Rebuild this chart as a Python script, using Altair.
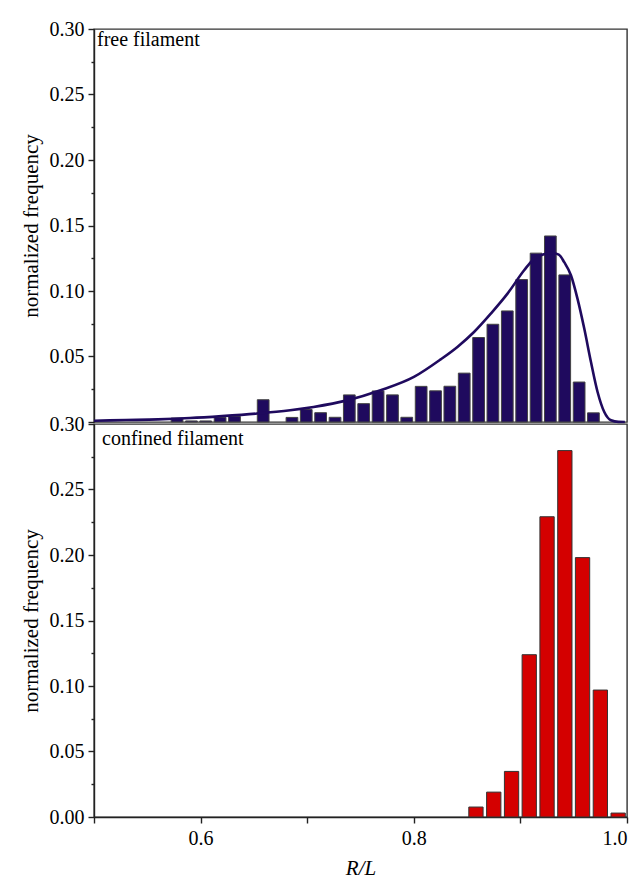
import altair as alt
import pandas as pd

# ---- data ----
free_centers = [0.5779, 0.5914, 0.6048, 0.6183, 0.6318, 0.6587, 0.6857, 0.6991,
                0.7126, 0.7261, 0.7395, 0.7530, 0.7665, 0.7800, 0.7934, 0.8069,
                0.8204, 0.8338, 0.8473, 0.8608, 0.8742, 0.8877, 0.9012, 0.9147,
                0.9281, 0.9416, 0.9551, 0.9685]
free_values = [0.0030, 0.0008, 0.0008, 0.0034, 0.0042, 0.0170, 0.0035, 0.0095,
               0.0071, 0.0036, 0.0207, 0.0140, 0.0237, 0.0207, 0.0036, 0.0272,
               0.0238, 0.0273, 0.0373, 0.0645, 0.0746, 0.0848, 0.1087, 0.1289,
               0.1420, 0.1123, 0.0305, 0.0070]

fit_x = [0.500, 0.530, 0.560, 0.590, 0.620, 0.653, 0.684, 0.706, 0.7375, 0.7688,
         0.8001, 0.8252, 0.8409, 0.8565, 0.8722, 0.8879, 0.9035, 0.9129, 0.9220,
         0.9300, 0.9360, 0.9411, 0.9474, 0.9536, 0.9599, 0.9662, 0.9724, 0.9787,
         0.9850, 0.9920, 0.9980]
fit_y = [0.0010, 0.0015, 0.0020, 0.0030, 0.0045, 0.0065, 0.0090, 0.0115, 0.0165, 0.0242,
         0.0344, 0.0478, 0.0573, 0.0687, 0.0827, 0.0980, 0.1158, 0.1247, 0.1280,
         0.1290, 0.1278, 0.1220, 0.1120, 0.0940, 0.0713, 0.0458, 0.0229, 0.0076,
         0.0013, 0.0001, 0.0000]

conf_centers = [0.8583, 0.8750, 0.8917, 0.9083, 0.9250, 0.9417, 0.9583, 0.9750, 0.9917]
conf_values = [0.0076, 0.0190, 0.0348, 0.1239, 0.2292, 0.2797, 0.1980, 0.0969, 0.0030]

panel_labels = ["free filament", "confined filament"]
y_title = "normalized frequency"
x_title = "R/L"
y_major = [0.00, 0.05, 0.10, 0.15, 0.20, 0.25, 0.30]
y_minor = [0.025, 0.075, 0.125, 0.175, 0.225, 0.275]
x_major = [0.5, 0.6, 0.7, 0.8, 0.9, 1.0]

# ---- styling ----
FONT = "Liberation Serif, Times New Roman, DejaVu Serif, serif"
NAVY = "#1f0a5e"
RED = "#d40000"
HW_FREE = 0.0055
HW_CONF = 0.0067
W, H = 533, 393

free_df = pd.DataFrame({"c": free_centers, "v": free_values})
free_df["x0"] = free_df["c"] - HW_FREE
free_df["x1"] = free_df["c"] + HW_FREE
conf_df = pd.DataFrame({"c": conf_centers, "v": conf_values})
conf_df["x0"] = conf_df["c"] - HW_CONF
conf_df["x1"] = conf_df["c"] + HW_CONF
fit_df = pd.DataFrame({"x": fit_x, "y": fit_y})

xs = alt.Scale(domain=[0.5, 1.0], nice=False, zero=False)
ys = alt.Scale(domain=[0.0, 0.3], nice=False)

axis_style = dict(labelFont=FONT, titleFont=FONT, labelFontSize=20, titleFontSize=21,
                  labelColor="black", titleColor="black", titleFontWeight="normal",
                  domainColor="#222", tickColor="#222", domainWidth=1.4, tickWidth=1.4,
                  grid=False)

def y_main_axis(hide_zero):
    expr = "datum.value == 0 ? '' : format(datum.value, '.2f')" if hide_zero else "format(datum.value, '.2f')"
    return alt.Axis(values=y_major, labelExpr=expr, tickSize=6, labelPadding=4,
                    title=y_title, titlePadding=8, orient="left", **axis_style)

y_minor_axis = alt.Axis(values=y_minor, labels=False, tickSize=3, domain=False,
                        title=None, orient="left", grid=False, tickColor="#222", tickWidth=1.4)

# top panel
top_bars = alt.Chart(free_df).mark_bar(color=NAVY, stroke="#444", strokeWidth=1).encode(
    x=alt.X("x0:Q", scale=xs, axis=None),
    x2="x1:Q",
    y=alt.Y("v:Q", scale=ys, axis=y_main_axis(True)),
    y2=alt.datum(0),
)
top_fit = alt.Chart(fit_df).mark_line(color=NAVY, strokeWidth=2.6, interpolate="monotone").encode(
    x=alt.X("x:Q", scale=xs, axis=None),
    y=alt.Y("y:Q", scale=ys, axis=y_minor_axis),
)
top_text = alt.Chart(pd.DataFrame({"t": [panel_labels[0]]})).mark_text(
    font=FONT, fontSize=20, align="left", baseline="top", color="black"
).encode(text="t:N", x=alt.value(3), y=alt.value(1))

top = alt.layer(top_bars, top_fit, top_text).resolve_axis(y="independent").properties(width=W, height=H)

# bottom panel
bot_bars = alt.Chart(conf_df).mark_bar(color=RED, stroke="#333", strokeWidth=1).encode(
    x=alt.X("x0:Q", scale=xs, title=x_title,
            axis=alt.Axis(values=x_major, tickSize=6, labelPadding=5, titlePadding=9,
                          labelExpr="(datum.value == 0.6 || datum.value == 0.8 || datum.value == 1) ? format(datum.value, '.1f') : ''",
                          titleFontStyle="italic", **axis_style)),
    x2="x1:Q",
    y=alt.Y("v:Q", scale=ys, axis=y_main_axis(False)),
    y2=alt.datum(0),
)
bot_minor = alt.Chart(conf_df).mark_bar(opacity=0).encode(
    x=alt.X("x0:Q", scale=xs),
    x2="x1:Q",
    y=alt.Y("v:Q", scale=ys, axis=y_minor_axis),
    y2=alt.datum(0),
)
bot_text = alt.Chart(pd.DataFrame({"t": [panel_labels[1]]})).mark_text(
    font=FONT, fontSize=20, align="left", baseline="top", color="black"
).encode(text="t:N", x=alt.value(8), y=alt.value(5))

bottom = alt.layer(bot_bars, bot_minor, bot_text).resolve_axis(y="independent").properties(width=W, height=H)

chart = alt.vconcat(top, bottom, spacing=2, bounds="flush").properties(
    padding={"left": 19, "top": 18, "right": 8, "bottom": 10},
    background="white",
).configure_view(stroke="#333", strokeWidth=1.4)

chart.save("out.html", embed_options={"renderer": "svg", "actions": False})
